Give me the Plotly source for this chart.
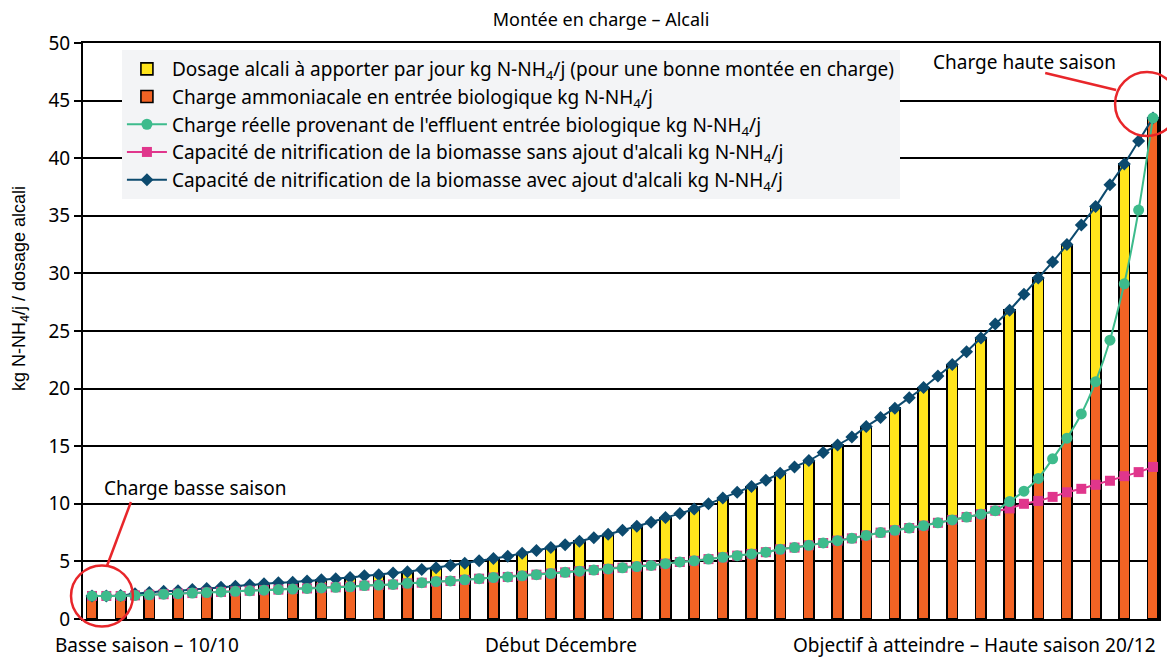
import plotly.graph_objects as go

# ---- data ----
# half-step time index : two line points per bar
pas = list(range(75))

capacite_avec_alcali = [
    2.0, 2.0, 2.05, 2.2, 2.3, 2.4, 2.45, 2.55, 2.65, 2.75,
    2.85, 2.95, 3.05, 3.15, 3.2, 3.3, 3.4, 3.5, 3.6, 3.75,
    3.85, 4.0, 4.1, 4.3, 4.45, 4.65, 4.85, 5.05, 5.25, 5.45,
    5.7, 5.95, 6.2, 6.45, 6.75, 7.05, 7.35, 7.7, 8.05, 8.4,
    8.8, 9.15, 9.55, 10.0, 10.5, 11.0, 11.5, 12.05, 12.65, 13.2,
    13.75, 14.45, 15.1, 15.8, 16.7, 17.5, 18.3, 19.2, 20.1, 21.1,
    22.1, 23.2, 24.4, 25.6, 26.8, 28.2, 29.6, 31.0, 32.5, 34.2,
    35.8, 37.7, 39.5, 41.5, 43.5]

capacite_sans_alcali = [
    2.0, 2.0, 2.0, 2.05, 2.1, 2.15, 2.2, 2.25, 2.3, 2.35,
    2.4, 2.45, 2.5, 2.55, 2.6, 2.65, 2.7, 2.75, 2.8, 2.9,
    2.95, 3.0, 3.1, 3.15, 3.25, 3.3, 3.4, 3.5, 3.6, 3.65,
    3.75, 3.85, 3.95, 4.05, 4.15, 4.25, 4.35, 4.45, 4.55, 4.65,
    4.8, 4.95, 5.05, 5.2, 5.35, 5.5, 5.65, 5.8, 6.05, 6.2,
    6.4, 6.6, 6.8, 7.0, 7.25, 7.5, 7.7, 7.9, 8.1, 8.35,
    8.6, 8.85, 9.1, 9.4, 9.6, 10.0, 10.25, 10.6, 11.0, 11.3,
    11.65, 12.0, 12.4, 12.75, 13.2]

charge_reelle = [
    2.0, 2.0, 2.0, 2.05, 2.1, 2.15, 2.2, 2.25, 2.3, 2.35,
    2.4, 2.45, 2.5, 2.55, 2.6, 2.65, 2.7, 2.75, 2.8, 2.9,
    2.95, 3.0, 3.1, 3.15, 3.25, 3.3, 3.4, 3.5, 3.6, 3.65,
    3.75, 3.85, 3.95, 4.05, 4.15, 4.25, 4.35, 4.45, 4.55, 4.65,
    4.8, 4.95, 5.05, 5.2, 5.35, 5.5, 5.65, 5.8, 6.05, 6.2,
    6.4, 6.6, 6.8, 7.0, 7.25, 7.5, 7.7, 7.9, 8.1, 8.35,
    8.6, 8.85, 9.1, 9.4, 10.2, 11.1, 12.2, 13.9, 15.7, 17.8,
    20.6, 24.2, 29.1, 35.5, 43.5]

# bars : one every two steps
pas_barres = pas[::2]
charge_ammoniacale = [
    2.0, 2.0, 2.1, 2.2, 2.3, 2.4, 2.5, 2.6, 2.7, 2.8,
    2.95, 3.1, 3.25, 3.4, 3.6, 3.75, 3.95, 4.15, 4.35, 4.55,
    4.8, 5.05, 5.35, 5.65, 6.05, 6.4, 6.8, 7.25, 7.7, 8.1,
    8.6, 9.1, 10.2, 12.2, 15.7, 20.6, 29.1, 43.5]
dosage_alcali = [
    0.0, 0.05, 0.2, 0.25, 0.35, 0.45, 0.55, 0.6, 0.7, 0.8,
    0.9, 1.0, 1.2, 1.45, 1.65, 1.95, 2.25, 2.6, 3.0, 3.5,
    4.0, 4.5, 5.15, 5.85, 6.6, 7.35, 8.3, 9.45, 10.6, 12.0,
    13.5, 15.3, 16.6, 17.4, 16.8, 15.2, 10.4, 0.0]

y_ticks = [0, 5, 10, 15, 20, 25, 30, 35, 40, 45, 50]

noms = [
    "Dosage alcali à apporter par jour kg N-NH<sub>4</sub>/j (pour une bonne montée en charge)",
    "Charge ammoniacale en entrée biologique kg N-NH<sub>4</sub>/j",
    "Charge réelle provenant de l'effluent entrée biologique kg N-NH<sub>4</sub>/j",
    "Capacité de nitrification de la biomasse sans ajout d'alcali kg N-NH<sub>4</sub>/j",
    "Capacité de nitrification de la biomasse avec ajout d'alcali kg N-NH<sub>4</sub>/j",
]

assert len(capacite_avec_alcali) == len(pas) == len(capacite_sans_alcali) == len(charge_reelle)
assert len(charge_ammoniacale) == len(pas_barres) == len(dosage_alcali)

FONT = "Noto Sans"
YELLOW = "#ffe41c"
ORANGE = "#f26324"
GREEN = "#3dbb8c"
PINK = "#e0368c"
BLUE = "#0c4a6e"
RED = "#e8262a"

fig = go.Figure()
fig.add_trace(go.Bar(x=pas_barres, y=charge_ammoniacale, name=noms[1], width=0.74,
                     marker=dict(color=ORANGE, line=dict(color="black", width=1.6)),
                     legendrank=2))
fig.add_trace(go.Bar(x=pas_barres, y=dosage_alcali, name=noms[0], width=0.74,
                     marker=dict(color=YELLOW, line=dict(color="black", width=1.6)),
                     legendrank=1))
fig.add_trace(go.Scatter(x=pas, y=capacite_avec_alcali, name=noms[4], mode="lines+markers",
                         line=dict(color=BLUE, width=2, shape="spline", smoothing=0.5),
                         marker=dict(symbol="diamond", size=10, color=BLUE),
                         legendrank=5))
fig.add_trace(go.Scatter(x=pas, y=capacite_sans_alcali, name=noms[3], mode="lines+markers",
                         line=dict(color=PINK, width=2),
                         marker=dict(symbol="square", size=10, color=PINK),
                         legendrank=4))
fig.add_trace(go.Scatter(x=pas, y=charge_reelle, name=noms[2], mode="lines+markers",
                         line=dict(color=GREEN, width=2, shape="spline", smoothing=0.5),
                         marker=dict(symbol="circle", size=11, color=GREEN),
                         legendrank=3))

W, H = 1167, 657
L, R, T, B = 83, 6, 43, 38
pw, ph = W - L - R, H - T - B


def px(x):
    return (x - L) / pw


def py(y):
    return (H - B - y) / ph


fig.update_layout(
    width=W, height=H,
    margin=dict(l=L, r=R, t=T, b=B),
    plot_bgcolor="white", paper_bgcolor="white",
    barmode="stack",
    font=dict(family=FONT, color="black", size=19),
    title=dict(text="Montée en charge – Alcali", x=601 / W, xanchor="center",
               y=1 - 20 / H, yanchor="middle",
               font=dict(family=FONT, size=18)),
    legend=dict(x=px(122), y=py(50), xanchor="left", yanchor="top",
                bgcolor="#f3f4f6", borderwidth=0, itemwidth=40,
                traceorder="normal",
                font=dict(family=FONT, size=19, color="black"),
                tracegroupgap=0),
    xaxis=dict(range=[-0.626, 74.42], showticklabels=False, showgrid=False, zeroline=False,
               showline=True, linecolor="black", linewidth=2, mirror=True, ticks=""),
    yaxis=dict(range=[0, 50], tickvals=y_ticks, showgrid=True, gridcolor="black", gridwidth=2,
               zeroline=False, showline=True, linecolor="black", linewidth=2, mirror=True,
               ticks="outside", ticklen=7, tickwidth=2, tickcolor="black",
               tickfont=dict(family=FONT, size=19)),
)

annots = [
    dict(text="kg N-NH<sub>4</sub>/j / dosage alcali", x=px(20), y=py(289), textangle=-90,
         xanchor="center", yanchor="middle", font=dict(family="Liberation Sans", size=18)),
    dict(text="Basse saison – 10/10", x=px(53), y=py(645), xanchor="left", yanchor="middle",
         font=dict(size=19)),
    dict(text="Début Décembre", x=px(562), y=py(645), xanchor="center", yanchor="middle",
         font=dict(size=19)),
    dict(text="Objectif à atteindre – Haute saison 20/12", x=px(1160), y=py(645),
         xanchor="right", yanchor="middle", font=dict(size=19)),
    dict(text="Charge basse saison", x=px(102), y=py(488), xanchor="left", yanchor="middle",
         font=dict(size=19)),
    dict(text="Charge haute saison", x=px(933), y=py(62), xanchor="left", yanchor="middle",
         font=dict(size=19)),
]
for a in annots:
    fig.add_annotation(xref="paper", yref="paper", showarrow=False, **a)

# red callouts
fig.add_shape(type="circle", xref="paper", yref="paper",
              x0=px(102 - 31), x1=px(102 + 31), y0=py(596 + 30.5), y1=py(596 - 30.5),
              line=dict(color=RED, width=2.5))
fig.add_shape(type="line", xref="paper", yref="paper",
              x0=px(131), y0=py(502), x1=px(107), y1=py(566),
              line=dict(color=RED, width=2.5))
fig.add_shape(type="circle", xref="paper", yref="paper",
              x0=px(1149 - 32), x1=px(1149 + 32), y0=py(104 + 32), y1=py(104 - 32),
              line=dict(color=RED, width=2.5))
fig.add_shape(type="line", xref="paper", yref="paper",
              x0=px(1047), y0=py(73), x1=px(1118), y1=py(90),
              line=dict(color=RED, width=2.5))

fig.write_html("out.html", config={"displayModeBar": False},
               post_script="document.body.style.margin='0';document.body.style.overflow='hidden';")
